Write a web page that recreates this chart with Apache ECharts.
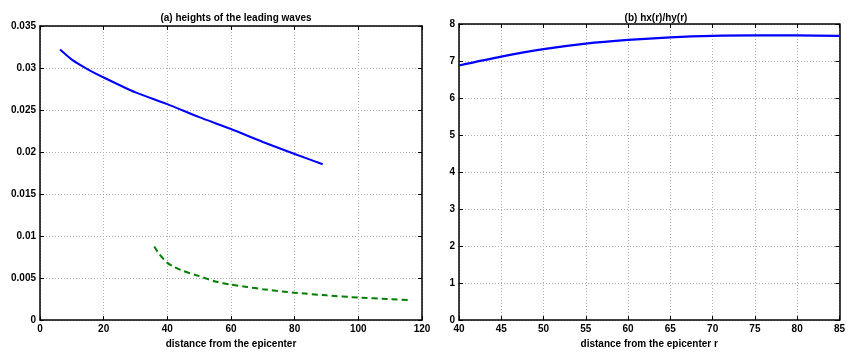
<!DOCTYPE html>
<html><head><meta charset="utf-8">
<script src="https://cdn.jsdelivr.net/npm/echarts@6/dist/echarts.min.js"></script>
<style>html,body{margin:0;padding:0;background:#fff}#c{width:848px;height:354px}</style>
</head><body><div id="c"></div>
<script>
// Panel (a): heights of the leading waves
const aBlueX = [6.3, 10, 15, 20, 30, 40, 50, 60, 70, 80, 88.8];
const aBlueY = [0.0322, 0.0310, 0.02985, 0.02887, 0.0271, 0.0257, 0.02415, 0.02274, 0.0212, 0.01977, 0.01855];
const aGreenX = [35.9, 37.5, 40, 42, 45, 50, 55, 60, 65, 70, 80, 90, 100, 110, 116];
const aGreenY = [0.00876, 0.00783, 0.00681, 0.00635, 0.00585, 0.00523, 0.0046, 0.00422, 0.00395, 0.00367, 0.00326, 0.00295, 0.00268, 0.0025, 0.00237];
// Panel (b): hx(r)/hy(r)
const bX = [40, 45, 50, 55, 60, 65, 70, 75, 80, 85];
const bY = [6.88, 7.12, 7.32, 7.47, 7.57, 7.64, 7.68, 7.69, 7.69, 7.68];

const zip = (xs, ys) => xs.map((x, i) => [x, ys[i]]);
const font = {fontFamily: 'Liberation Sans, Arial, sans-serif', fontWeight: 'bold', fontSize: 10, color: '#000'};
const gridLine = {show: true, lineStyle: {color: '#b0b0b0', type: [1, 2], width: 1}};

function xAx(gi, min, max, interval, name, pos, labels) {
  return {type: 'value', gridIndex: gi, min, max, interval, position: pos,
    name: labels ? name : '', nameLocation: 'middle', nameGap: 14, nameTextStyle: font,
    axisLine: {show: true, onZero: false, lineStyle: {color: '#000', width: 1.5}},
    axisTick: {show: true, inside: true, length: 4, lineStyle: {color: '#000'}},
    axisLabel: {show: labels, ...font, margin: 4, showMaxLabel: true, showMinLabel: true},
    splitLine: labels ? gridLine : {show: false}};
}
function yAx(gi, min, max, interval, pos, labels, fmt) {
  return {type: 'value', gridIndex: gi, min, max, interval, position: pos,
    axisLine: {show: true, onZero: false, lineStyle: {color: '#000', width: 1.5}},
    axisTick: {show: true, inside: true, length: 4, lineStyle: {color: '#000'}},
    axisLabel: {show: labels, ...font, margin: 4, formatter: fmt},
    splitLine: labels ? gridLine : {show: false}};
}

const chart = echarts.init(document.getElementById('c'), null, {renderer: 'canvas'});
chart.setOption({
  animation: false,
  backgroundColor: '#fff',
  title: [
    {text: '(a) heights of the leading waves', left: 231, top: 8, textAlign: 'center', textStyle: {...font, fontSize: 10}},
    {text: '(b) hx(r)/hy(r)', left: 651, top: 8, textAlign: 'center', textStyle: {...font, fontSize: 10}}
  ],
  grid: [
    {left: 40, right: 426, top: 26, bottom: 28},
    {left: 459, right: 5, top: 24, bottom: 28}
  ],
  xAxis: [
    xAx(0, 0, 120, 20, 'distance from the epicenter', 'bottom', true),
    xAx(0, 0, 120, 20, '', 'top', false),
    xAx(1, 40, 85, 5, 'distance from the epicenter r', 'bottom', true),
    xAx(1, 40, 85, 5, '', 'top', false)
  ],
  yAxis: [
    yAx(0, 0, 0.035, 0.005, 'left', true, v => v === 0 ? '0' : String(+v.toFixed(3))),
    yAx(0, 0, 0.035, 0.005, 'right', false),
    yAx(1, 0, 8, 1, 'left', true),
    yAx(1, 0, 8, 1, 'right', false)
  ],
  series: [
    {type: 'line', xAxisIndex: 0, yAxisIndex: 0, data: zip(aBlueX, aBlueY), smooth: 0.2, showSymbol: false,
      lineStyle: {color: '#0000ff', width: 2}},
    {type: 'line', xAxisIndex: 0, yAxisIndex: 0, data: zip(aGreenX, aGreenY), smooth: 0.2, showSymbol: false,
      lineStyle: {color: '#007f00', width: 2, type: [6, 4]}},
    {type: 'line', xAxisIndex: 2, yAxisIndex: 2, data: zip(bX, bY), smooth: 0.3, showSymbol: false,
      lineStyle: {color: '#0000ff', width: 2.2}}
  ]
});
</script></body></html>
